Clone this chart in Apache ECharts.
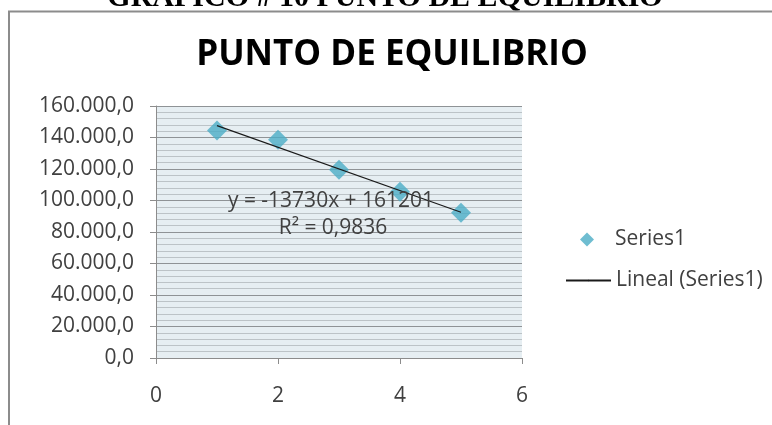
<!DOCTYPE html>
<html><head><meta charset="utf-8">
<script src="https://cdn.jsdelivr.net/npm/echarts@6/dist/echarts.min.js"></script>
<style>html,body{margin:0;padding:0;background:#fff}#c{width:772px;height:425px}</style>
</head><body><div id="c"></div>
<script>
// ---- data ----
const xValues = [1, 2, 3, 4, 5];
const yValues = [144500, 138500, 119500, 105500, 92200];
const seriesName = 'Series1';
const trendName = 'Lineal (Series1)';
const equationText = 'y = -13730x + 161201';
const r2Text = 'R\u00B2 = 0,9836';
const chartTitle = 'PUNTO DE EQUILIBRIO';
const docHeading = 'GR\u00C1FICO # 10 PUNTO DE EQUILIBRIO';

// least-squares trendline from the data
const n = xValues.length;
const mx = xValues.reduce((a, b) => a + b, 0) / n;
const my = yValues.reduce((a, b) => a + b, 0) / n;
let sxy = 0, sxx = 0;
for (let i = 0; i < n; i++) { sxy += (xValues[i] - mx) * (yValues[i] - my); sxx += (xValues[i] - mx) ** 2; }
const slope = sxy / sxx, intercept = my - slope * mx;
const xFirst = xValues[0], xLast = xValues[n - 1];
const trendData = [[xFirst, intercept + slope * xFirst], [xLast, intercept + slope * xLast]];

const FONT = '"Open Sans", sans-serif';
const TXT = '#404040';

function fmt(v) {
  const s = Math.round(v).toString().replace(/\B(?=(\d{3})+(?!\d))/g, '.');
  return s + ',0';
}

const chart = echarts.init(document.getElementById('c'), null, { renderer: 'canvas' });
chart.setOption({
  animation: false,
  backgroundColor: '#fff',
  textStyle: { fontFamily: FONT },
  grid: { left: 156, top: 106, right: 250, bottom: 67, show: true, backgroundColor: '#E6EEF2', borderWidth: 0 },
  xAxis: {
    type: 'value', min: 0, max: 6, interval: 2,
    axisLine: { show: true, onZero: false, lineStyle: { color: '#8C8C8C', width: 1 } },
    axisTick: { show: true, length: 6, lineStyle: { color: '#8C8C8C' } },
    axisLabel: { color: TXT, fontSize: 21, fontFamily: FONT, margin: 28 },
    splitLine: { show: false }
  },
  yAxis: {
    type: 'value', min: 0, max: 160000, interval: 20000,
    axisLine: { show: true, lineStyle: { color: '#8C8C8C', width: 1 } },
    axisTick: { show: true, length: 6, lineStyle: { color: '#8C8C8C' } },
    axisLabel: { color: TXT, fontSize: 21, fontFamily: FONT, margin: 22, formatter: fmt },
    splitLine: { show: true, lineStyle: { color: '#8F9396', width: 1 } },
    minorTick: { show: false, splitNumber: 5 },
    minorSplitLine: { show: true, lineStyle: { color: '#BCC3C7', width: 1 } }
  },
  legend: [
    { data: [seriesName], orient: 'vertical', left: 575, top: 224, itemWidth: 14, itemHeight: 14,
      textStyle: { color: TXT, fontSize: 21, fontFamily: FONT, padding: [0, 0, 0, 16] } },
    { data: [trendName], orient: 'vertical', left: 560, top: 265, itemWidth: 45, itemHeight: 2,
      textStyle: { color: TXT, fontSize: 21, fontFamily: FONT } }
  ],
  series: [
    { name: seriesName, type: 'scatter', symbol: 'diamond', symbolSize: [20, 20],
      itemStyle: { color: '#4BACC6' },
      data: xValues.map((x, i) => [x, yValues[i]]), z: 3 },
    { name: trendName, type: 'line', symbol: 'none', showSymbol: false,
      lineStyle: { color: '#1a1a1a', width: 1.2 }, itemStyle: { color: '#1a1a1a' },
      data: trendData, z: 4 }
  ],
  graphic: [
    { type: 'text', x: 385, y: -2, style: { text: docHeading, font: 'bold 30px "Liberation Serif", serif', fill: '#000', align: 'center', verticalAlign: 'middle' } },
    { type: 'line', shape: { x1: 8, y1: 11.5, x2: 772, y2: 11.5 }, style: { stroke: '#8C8C8C', lineWidth: 2 } },
    { type: 'line', shape: { x1: 9, y1: 11, x2: 9, y2: 425 }, style: { stroke: '#8C8C8C', lineWidth: 2 } },
    { type: 'text', x: 392, y: 55, style: { text: chartTitle, font: 'bold 35px "Open Sans", sans-serif', fill: '#000', align: 'center', verticalAlign: 'middle' } },
    { type: 'text', x: 331, y: 201, z: 10, style: { text: equationText, font: '21px "Open Sans", sans-serif', fill: TXT, align: 'center', verticalAlign: 'middle' } },
    { type: 'text', x: 333, y: 228, z: 10, style: { text: r2Text, font: '21px "Open Sans", sans-serif', fill: TXT, align: 'center', verticalAlign: 'middle' } }
  ]
});
</script>
</body></html>
